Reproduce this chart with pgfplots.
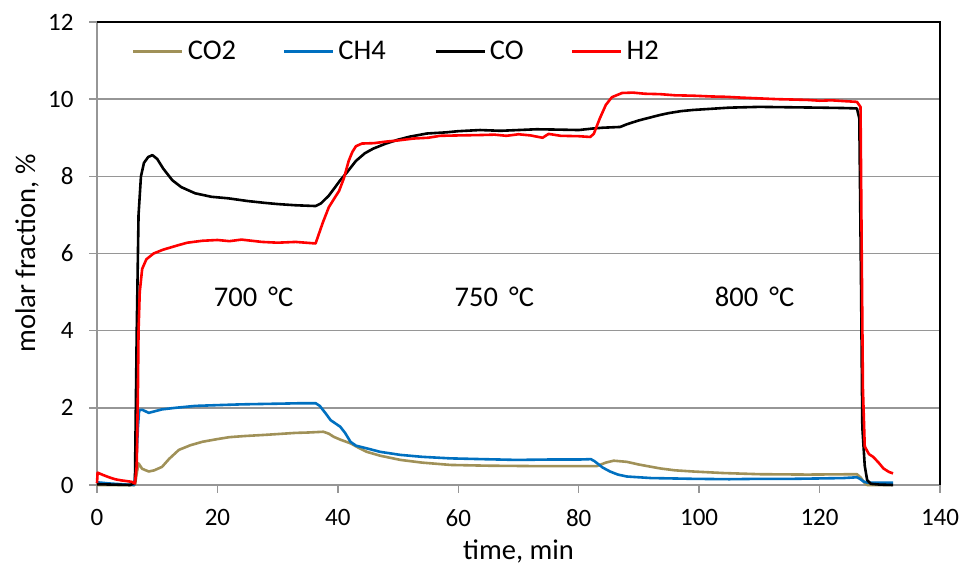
\documentclass[border=0pt]{standalone}
\usepackage{pgfplots}
\pgfplotsset{compat=1.18}
\usepackage{fontspec}
\setmainfont{Carlito}
\definecolor{cotwo}{RGB}{160,145,88}
\definecolor{chfour}{RGB}{0,112,192}
\definecolor{htwo}{RGB}{255,0,0}
\definecolor{gridgray}{RGB}{150,150,150}

\pgfplotstableread{
x y
0 0.0
6.3 0.0
6.6 0.3
6.9 0.56
7.5 0.42
8.6 0.35
9.5 0.38
10.8 0.47
12 0.68
13.6 0.91
15.5 1.03
17.5 1.12
20 1.19
22 1.24
24.6 1.27
28 1.30
30 1.32
32.9 1.35
35 1.36
37.6 1.38
38.5 1.33
39.3 1.25
40.5 1.17
42.1 1.08
43.5 0.96
44.8 0.86
47 0.76
50.4 0.65
54 0.58
58.7 0.52
65 0.50
72.5 0.49
78 0.49
83 0.49
84.5 0.58
85.8 0.63
88 0.60
90 0.53
93.5 0.43
96 0.38
99 0.35
104 0.31
110 0.28
118 0.27
126.2 0.28
126.8 0.20
127.5 0.05
127.9 0.0
132 0.0
}\cotwotab

\pgfplotstableread{
x y
0 0.07
2 0.04
5 0.01
6.2 0.0
6.5 0.5
6.8 1.5
7.0 1.94
7.5 1.95
8.6 1.87
10.8 1.96
13 2.00
16.3 2.05
20 2.07
24 2.09
27.4 2.10
31 2.11
34 2.12
36.3 2.12
37 2.05
38 1.85
38.8 1.68
40.4 1.51
41.2 1.35
42.1 1.12
43 1.02
44.8 0.95
47 0.86
50.4 0.78
54 0.73
58.7 0.69
64 0.67
69.7 0.65
75 0.66
80 0.66
82 0.67
82.6 0.62
84 0.45
85.2 0.35
86.5 0.27
88 0.22
92 0.18
99 0.16
105 0.15
110 0.16
115.6 0.16
120 0.17
124 0.18
126.2 0.20
126.8 0.15
127.3 0.09
128 0.06
132.2 0.06
}\chfourtab

\pgfplotstableread{
x y
0 0.02
5.5 0.0
6.3 0.05
6.6 4.0
6.9 7.0
7.3 8.0
7.8 8.35
8.5 8.50
9.2 8.55
10 8.45
11 8.20
12.5 7.90
14 7.72
16.3 7.56
19 7.47
21.8 7.43
25 7.36
28 7.31
30.1 7.28
33 7.25
36.3 7.23
37.2 7.30
38.5 7.50
39.6 7.73
40.4 7.90
41.5 8.10
43 8.40
44.5 8.60
45.9 8.72
48 8.85
50 8.95
52 9.03
54.8 9.11
58 9.14
60 9.17
63.6 9.20
67 9.18
70 9.20
73 9.22
76.9 9.21
80 9.20
82.4 9.24
84 9.26
85.5 9.27
86.9 9.28
88 9.35
90 9.45
92 9.53
93.5 9.59
95 9.64
97 9.69
99 9.72
102 9.75
105 9.78
110 9.80
115 9.79
120 9.78
124 9.77
126.2 9.76
126.6 9.50
126.9 5.0
127.1 1.5
127.5 0.5
127.9 0.13
128.5 0.03
130 0.01
132.2 0.0
}\cotab

\pgfplotstableread{
x y
0 0.05
0.1 0.32
1 0.26
2 0.20
3 0.15
4 0.12
5 0.10
5.8 0.08
6.3 0.04
6.6 0.5
6.8 2.5
6.9 4.0
7.1 5.0
7.5 5.6
8.2 5.85
9.4 6.00
11 6.10
13.6 6.22
15 6.28
17.5 6.33
20 6.35
22 6.32
24 6.36
27.4 6.30
30 6.28
33 6.30
36.3 6.26
37.5 6.80
38.5 7.20
39.5 7.45
40.2 7.62
41 7.95
41.8 8.40
42.4 8.63
43 8.78
44 8.85
46 8.86
48 8.90
50 8.93
52.6 8.98
55 9.00
57 9.05
60 9.06
63.6 9.07
66 9.08
68 9.05
70 9.09
72 9.06
74 9.00
75 9.10
77 9.05
80 9.04
81.9 9.02
82.5 9.10
83.5 9.50
84.5 9.85
85.5 10.05
87.2 10.16
89 10.17
91 10.14
93.5 10.13
96 10.10
99 10.09
102 10.07
104.6 10.06
107 10.04
110 10.02
113 10.00
115.6 9.99
118 9.98
120 9.96
122 9.97
124 9.95
126.2 9.93
126.8 9.80
127 6.0
127.2 2.5
127.5 1.0
128.2 0.80
128.9 0.73
129.8 0.58
130.6 0.43
131.5 0.34
132.2 0.30
}\htwotab

\begin{document}
\begin{tikzpicture}
\useasboundingbox (-97pt,-98pt) rectangle (872pt,485pt);
\begin{axis}[
  scale only axis, width=843pt, height=463pt,
  xmin=0, xmax=140, ymin=0, ymax=12,
  xtick={0,20,...,140}, ytick={0,2,...,12},
  axis x line*=bottom, axis y line*=left,
  axis line style={draw=gridgray, line width=1.5pt, -},
  ymajorgrids, grid style={gridgray, line width=1.5pt},
  tick style={gridgray, line width=1.5pt},
  major tick length=8pt, tick align=outside,
  ticklabel style={font=\fontsize{25}{25}\selectfont},
  yticklabel style={xshift=-12pt},
  xticklabel style={yshift=-13pt},
  /pgf/number format/assume math mode=true,
  xlabel={time, min}, ylabel={molar fraction, \%},
  label style={font=\fontsize{28.5}{28.5}\selectfont},
  xlabel style={at={(axis description cs:0.5,0)}, anchor=center, yshift=-66pt},
  ylabel style={at={(axis description cs:0,0.5)}, anchor=center, yshift=70pt},
  clip=false,
  legend columns=-1,
  legend style={draw=none, fill=none, inner sep=0pt,
    at={(axis description cs:0,1)}, anchor=west, xshift=35pt, yshift=-29.5pt,
    font=\fontsize{28.5}{28.5}\selectfont,
    nodes={inner sep=0pt},
    /tikz/every odd column/.style={column sep=4pt}},
  legend image code/.code={\draw[#1] (0pt,0pt) -- (49pt,0pt);},
  every axis plot/.append style={line width=2.6pt, line join=round},
]
\addplot[cotwo] table {\cotwotab};
\addlegendentry{\makebox[95pt][l]{CO2}}
\addplot[chfour] table {\chfourtab};
\addlegendentry{\makebox[96pt][l]{CH4}}
\addplot[black] table {\cotab};
\addlegendentry{\makebox[81pt][l]{CO}}
\addplot[htwo] table {\htwotab};
\addlegendentry{H2}
\draw[black, line width=1.5pt] (rel axis cs:0,1) -- (rel axis cs:1,1) -- (rel axis cs:1,0);
\node[font=\fontsize{28.5}{28.5}\selectfont] at (axis cs:26,4.87) {700 \,°C};
\node[font=\fontsize{28.5}{28.5}\selectfont] at (axis cs:66,4.87) {750 \,°C};
\node[font=\fontsize{28.5}{28.5}\selectfont] at (axis cs:109.2,4.87) {800 \,°C};
\end{axis}
\end{tikzpicture}
\end{document}
